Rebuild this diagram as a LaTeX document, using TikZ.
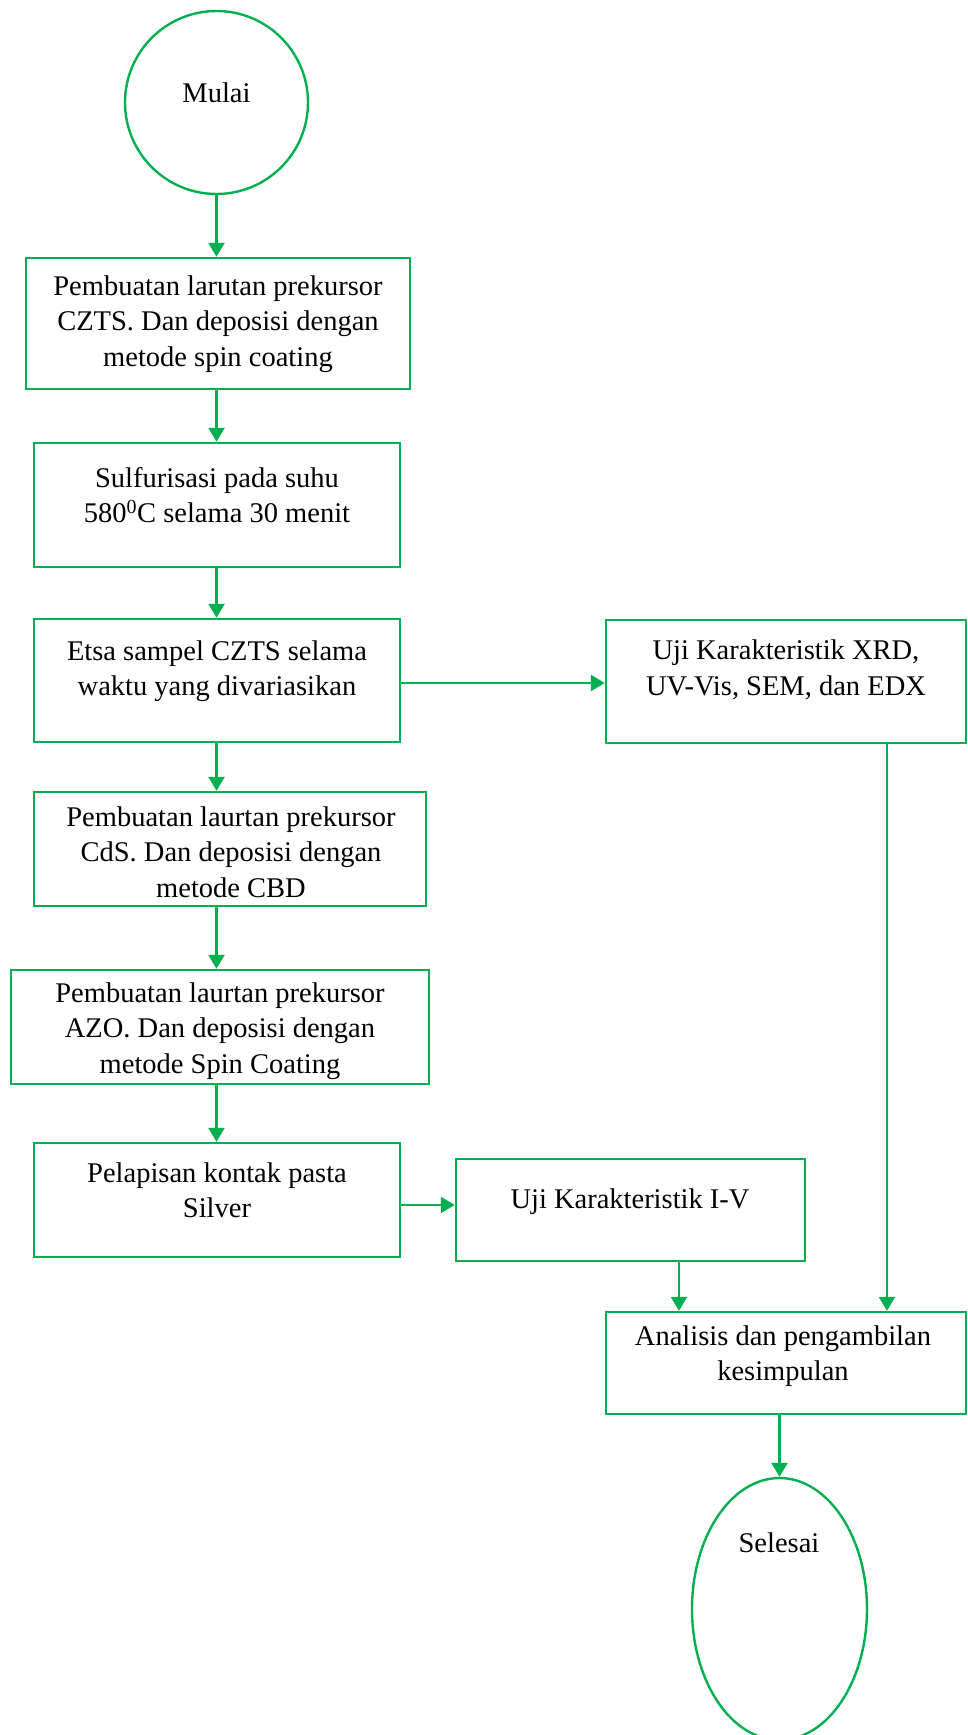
\documentclass[tikz,border=0pt]{standalone}
\usepackage{fontspec}
\setmainfont{Liberation Serif}
\usetikzlibrary{arrows.meta,shapes.geometric}
\definecolor{lg}{RGB}{0,176,80}
\begin{document}
\begin{tikzpicture}[x=1pt,y=-1pt,
  boxst/.style={draw=lg,line width=2.4pt,rectangle,inner sep=0pt},
  txt/.style={align=center,font=\fontsize{28.5}{35.5}\selectfont,inner sep=0pt},
  arr/.style={draw=lg,line width=2.4pt,-{Triangle[length=14pt,width=16pt]}}]
\clip (0,0) rectangle (968,1735);
\fill[white] (0,0) rectangle (968,1735);
% shapes
\node[draw=lg,line width=2.4pt,circle,minimum size=183pt,inner sep=0pt] (mulai) at (216.5,102.5) {};
\node[boxst,minimum width=384pt,minimum height=131pt] (b1) at (218,323.5) {};
\node[boxst,minimum width=366pt,minimum height=124pt] (b2) at (217,505) {};
\node[boxst,minimum width=366pt,minimum height=123pt] (b3) at (217,680.5) {};
\node[boxst,minimum width=392pt,minimum height=114pt] (b4) at (230,849) {};
\node[boxst,minimum width=418pt,minimum height=114pt] (b5) at (220,1027) {};
\node[boxst,minimum width=366pt,minimum height=114pt] (b6) at (217,1200) {};
\node[boxst,minimum width=360pt,minimum height=123pt] (xrd) at (786,681.5) {};
\node[boxst,minimum width=349pt,minimum height=102pt] (iv) at (630.5,1210) {};
\node[boxst,minimum width=360pt,minimum height=102pt] (an) at (786,1363) {};
\node[draw=lg,line width=2.4pt,ellipse,minimum width=175pt,minimum height=262pt,inner sep=0pt] (selesai) at (779.5,1609) {};
% texts
\node[txt] (tmulai) at (216.5,93) {Mulai};
\node[txt] (t1) at (218,324) {Pembuatan larutan prekursor\\CZTS. Dan deposisi dengan\\metode spin coating};
\node[txt] (t2) at (217,495) {Sulfurisasi pada suhu\\580\textsuperscript{0}C selama 30 menit};
\node[txt] (t3) at (217,671) {Etsa sampel CZTS selama\\waktu yang divariasikan};
\node[txt] (t4) at (231,852) {Pembuatan laurtan prekursor\\CdS. Dan deposisi dengan\\metode CBD};
\node[txt] (t5) at (220,1031) {Pembuatan laurtan prekursor\\AZO. Dan deposisi dengan\\metode Spin Coating};
\node[txt] (t6) at (217,1190) {Pelapisan kontak pasta\\Silver};
\node[txt] (txrd) at (786,670) {Uji Karakteristik XRD,\\UV-Vis, SEM, dan EDX};
\node[txt] (tiv) at (630,1202) {Uji Karakteristik I-V};
\node[txt] (tan) at (783,1356) {Analisis dan pengambilan\\kesimpulan};
\node[txt] (tsel) at (779,1543) {Selesai};
% connectors
\draw[arr] (mulai.south) -- (mulai.south |- b1.north);
\draw[arr] (mulai.south |- b1.south) -- (mulai.south |- b2.north);
\draw[arr] (mulai.south |- b2.south) -- (mulai.south |- b3.north);
\draw[arr] (mulai.south |- b3.south) -- (mulai.south |- b4.north);
\draw[arr] (mulai.south |- b4.south) -- (mulai.south |- b5.north);
\draw[arr] (mulai.south |- b5.south) -- (mulai.south |- b6.north);
\draw[arr] ([yshift=-2.5pt]b3.east) -- ([yshift=-2.5pt]b3.east -| xrd.west);
\draw[arr] ([yshift=-5pt]b6.east) -- ([yshift=-5pt]b6.east -| iv.west);
\draw[arr] ([xshift=48.5pt]iv.south) -- ([xshift=48.5pt]iv.south |- an.north);
\draw[arr] ([xshift=101pt]xrd.south) -- ([xshift=101pt]xrd.south |- an.north);
\draw[arr] (selesai.north |- an.south) -- (selesai.north);
\end{tikzpicture}
\end{document}
